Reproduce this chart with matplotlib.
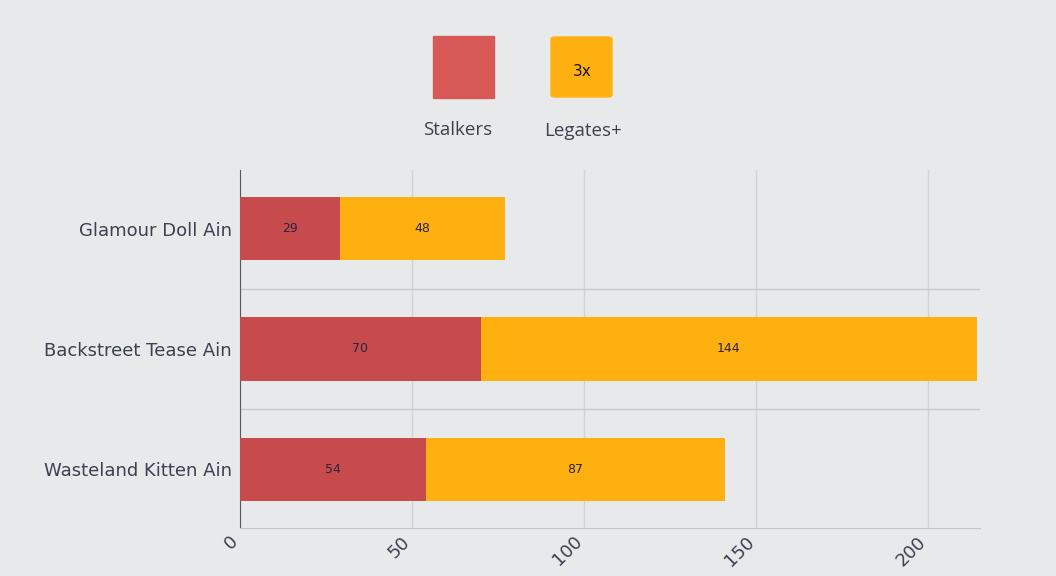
import matplotlib.pyplot as plt
import matplotlib.transforms as mtransforms
from matplotlib.patches import Rectangle, FancyBboxPatch

categories = ['Glamour Doll Ain', 'Backstreet Tease Ain', 'Wasteland Kitten Ain']
stalkers = [29, 70, 54]
legates = [48, 144, 87]
xticks = [0, 50, 100, 150, 200]

bg = '#e8e9eb'
red = '#c74b4c'
orange = '#ffb011'
txt = '#3b4150'

fig = plt.figure(figsize=(10.56, 5.76), dpi=100, facecolor=bg)
ax = fig.add_axes([240 / 1056, 48 / 576, 740 / 1056, 358 / 576], facecolor=bg)

y = list(range(len(categories)))
ax.barh(y, stalkers, height=0.525, color=red, zorder=3)
ax.barh(y, legates, left=stalkers, height=0.525, color=orange, zorder=3)
for i in y:
    ax.text(stalkers[i] / 2, i, str(stalkers[i]), ha='center', va='center',
            fontsize=9, color='#2a2440', zorder=4)
    ax.text(stalkers[i] + legates[i] / 2, i, str(legates[i]), ha='center',
            va='center', fontsize=9, color='#2a2440', zorder=4)

ax.set_xlim(0, 215)
ax.set_ylim(2.49, -0.49)
ax.set_yticks(y)
ax.set_yticklabels(categories, fontsize=13, color=txt, va='center_baseline')
ax.set_xticks(xticks)
ax.set_xticklabels([])
# rotated x tick labels, placed by hand so their end sits just left of the tick
base = ax.get_xaxis_transform()
for t in xticks:
    off = mtransforms.offset_copy(base, fig=fig, x=-5, y=-11, units='dots')
    ax.text(t, 0, str(t), transform=off, rotation=45, ha='right', va='center',
            rotation_mode='anchor', fontsize=13, color=txt, clip_on=False)
ax.tick_params(axis='y', length=0, pad=6)
ax.tick_params(axis='x', length=0)
ax.set_yticks([0.5, 1.5], minor=True)
ax.tick_params(axis='y', which='minor', length=0)
ax.grid(axis='x', color='#d2d3d6', linewidth=1, zorder=0)
ax.grid(axis='y', which='minor', color='#c8c9cc', linewidth=1, zorder=0)
for s in ['top', 'right']:
    ax.spines[s].set_visible(False)
ax.spines['left'].set_color('#555a63')
ax.spines['bottom'].set_color('#c4c5c8')

# legend drawn on the figure
fig.patches.append(Rectangle((433 / 1056, 1 - 98 / 576), 61 / 1056, 62 / 576,
                             transform=fig.transFigure, color='#d75956'))
fig.patches.append(FancyBboxPatch((551 / 1056, 1 - 97 / 576), 61 / 1056, 60 / 576,
                                  boxstyle='round,pad=0,rounding_size=0.004',
                                  transform=fig.transFigure, color=orange))
fig.text(582 / 1056, 1 - 72 / 576, '3x', ha='center', va='center', fontsize=11,
         color='#111111')
fig.text(458 / 1056, 1 - 130 / 576, 'Stalkers', ha='center', va='center',
         fontsize=13.5, color=txt, family='Open Sans')
fig.text(583 / 1056, 1 - 131 / 576, 'Legates+', ha='center', va='center',
         fontsize=13.5, color=txt, family='Open Sans')

fig.savefig('out.png', dpi=100, facecolor=bg)
